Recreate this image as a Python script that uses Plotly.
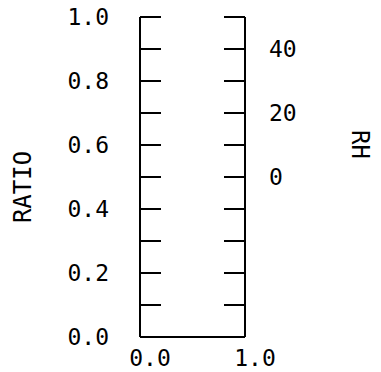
import plotly.graph_objects as go

# axis tick values / labels
ratio_ticks = [round(i * 0.1, 1) for i in range(11)]
ratio_labels = ["0.0", "", "0.2", "", "0.4", "", "0.6", "", "0.8", "", "1.0"]
rh_ticks = list(range(-50, 51, 10))
rh_labels = ["", "", "", "", "", "0", "", "20", "", "40", ""]
x_ticks = [0.0, 1.0]
x_labels = ["0.0", "1.0"]

FONT = "DejaVu Sans Mono"
TICKFONT = dict(family=FONT, size=23, color="black")
PAD = 0.00625  # small range padding so end ticks are not clipped

fig = go.Figure()
fig.add_trace(go.Scatter(x=[], y=[], xaxis="x", yaxis="y", showlegend=False))
fig.add_trace(go.Scatter(x=[], y=[], xaxis="x", yaxis="y2", showlegend=False))

frame = dict(type="line", xref="paper", yref="y",
             line=dict(color="black", width=2))

fig.update_layout(
    template="none",
    width=381, height=372,
    margin=dict(l=132, r=144, t=7, b=41, autoexpand=False),
    paper_bgcolor="white", plot_bgcolor="white",
    font=dict(family=FONT, size=22, color="black"),
    showlegend=False,
    xaxis=dict(
        range=[0, 1], showgrid=False, zeroline=False, automargin=False,
        showline=False,
        tickmode="array", tickvals=x_ticks, ticktext=x_labels,
        ticks="", ticklabelshift=10, ticklabelstandoff=3,
        ticklabeloverflow="allow", tickfont=TICKFONT,
    ),
    yaxis=dict(
        range=[-PAD, 1 + PAD], showgrid=False, zeroline=False, automargin=False,
        showline=False,
        tickmode="array", tickvals=ratio_ticks, ticktext=ratio_labels,
        ticks="inside", ticklen=21, tickwidth=2, tickcolor="black",
        ticklabelstandoff=30, ticklabeloverflow="allow", tickfont=TICKFONT,
    ),
    yaxis2=dict(
        range=[-50 - 100 * PAD, 50 + 100 * PAD], overlaying="y", side="right",
        showgrid=False, zeroline=False, automargin=False,
        showline=False,
        tickmode="array", tickvals=rh_ticks, ticktext=rh_labels,
        ticks="inside", ticklen=21, tickwidth=2, tickcolor="black",
        ticklabelstandoff=23, ticklabeloverflow="allow", tickfont=TICKFONT,
    ),
    shapes=[
        dict(frame, x0=0, x1=0, y0=0, y1=1),
        dict(frame, x0=1, x1=1, y0=0, y1=1),
        dict(frame, x0=0, x1=1, y0=0, y1=0),
    ],
    annotations=[
        dict(text="RATIO", xref="paper", yref="paper", x=-1.12, y=0.47,
             showarrow=False, textangle=-90, xanchor="center", yanchor="middle",
             font=dict(family=FONT, size=24, color="black")),
        dict(text="RH", xref="paper", yref="paper", x=2.10, y=0.60,
             showarrow=False, textangle=90, xanchor="center", yanchor="middle",
             font=dict(family=FONT, size=24, color="black")),
    ],
)

fig.write_html("out.html")
